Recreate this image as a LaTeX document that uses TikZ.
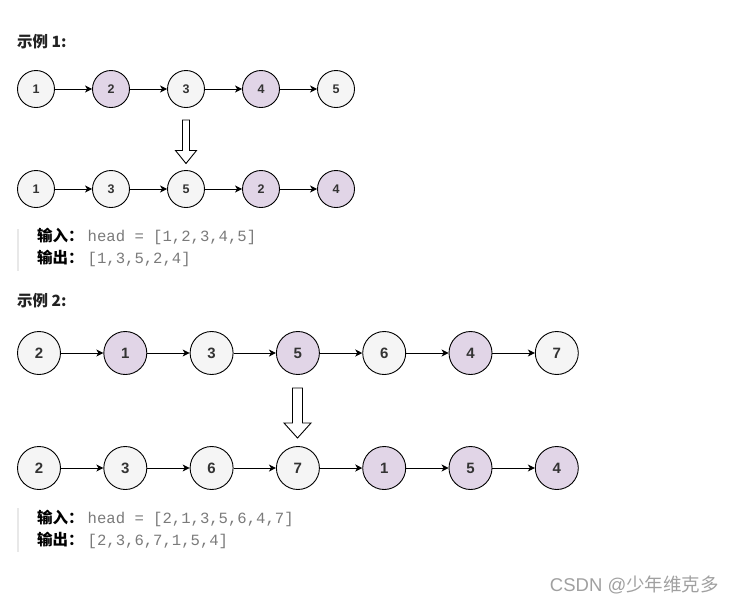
\documentclass[tikz,border=0pt]{standalone}
\usepackage{fontspec,xcolor}
\usetikzlibrary{arrows.meta}
\setmainfont{Liberation Sans}
\newfontfamily\cjk{Noto Sans CJK SC}
\newfontfamily\codefont{Liberation Mono}
\newcommand\codetxt[1]{{\codefont\fontsize{15.6}{17}\selectfont\color{cCode}#1}}
\definecolor{night}{HTML}{222222}
\definecolor{ink}{HTML}{333333}
\definecolor{cPla}{HTML}{F5F5F5}
\definecolor{cPur}{HTML}{E1D5E7}
\definecolor{cCode}{HTML}{7A7A7A}
\definecolor{cBar}{HTML}{E8E8E8}
\definecolor{cMark}{HTML}{A0A0A0}

\begin{document}
\begin{tikzpicture}[x=1pt,y=-1pt,
  nd/.style={circle,draw=black,line width=0.9pt,inner sep=0pt,text=ink,font=\bfseries},
  lnk/.style={-{Stealth[length=7pt,width=7pt,inset=2pt]},line width=0.9pt},
  hollow/.style={draw=black,line width=0.9pt,fill=white,line join=miter},
  head/.style={anchor=west,inner sep=0pt,font=\cjk\bfseries\fontsize{15.5}{17}\selectfont,text=night},
  io/.style={anchor=west,inner sep=0pt,font=\fontsize{15.5}{17}\selectfont}]
  \useasboundingbox (0,0) rectangle (734,606);

  % example 1
  \node[head] (t1) at (17,42) {示例 1:};
  \foreach \n/\c [count=\i] in {1/cPla,2/cPur,3/cPla,4/cPur,5/cPla}
    \node[nd,fill=\c,minimum size=37,font=\bfseries\fontsize{12.5}{14}\selectfont] (p\i) at ({36+75*(\i-1)},89) {\n};
  \foreach \n/\c [count=\i] in {1/cPla,3/cPla,5/cPla,2/cPur,4/cPur}
    \node[nd,fill=\c,minimum size=37,font=\bfseries\fontsize{12.5}{14}\selectfont] (q\i) at ({36+75*(\i-1)},189) {\n};
  \foreach \i/\j in {1/2,2/3,3/4,4/5}{
    \draw[lnk] (p\i) -- (p\j);
    \draw[lnk] (q\i) -- (q\j);
  }
  \draw[hollow] (182.5,120) -- (189.5,120) -- (189.5,150.5) -- (196.5,150.5)
    -- (186,163.5) -- (175.5,150.5) -- (182.5,150.5) -- cycle;
  \fill[cBar] (16.5,229) rectangle (19,271);
  \node[io] (in1) at (37,236) {{\cjk\bfseries 输入：}\hspace{4pt}\codetxt{head = [1,2,3,4,5]}};
  \node[io] (out1) at (37,258) {{\cjk\bfseries 输出：}\hspace{4pt}\codetxt{[1,3,5,2,4]}};

  % example 2
  \node[head] (t2) at (17,301) {示例 2:};
  \foreach \n/\c [count=\i] in {2/cPla,1/cPur,3/cPla,5/cPur,6/cPla,4/cPur,7/cPla}
    \node[nd,fill=\c,minimum size=43,font=\bfseries\fontsize{15}{17}\selectfont] (r\i) at ({39+86.3*(\i-1)},353) {\n};
  \foreach \n/\c [count=\i] in {2/cPla,3/cPla,6/cPla,7/cPla,1/cPur,5/cPur,4/cPur}
    \node[nd,fill=\c,minimum size=43,font=\bfseries\fontsize{15}{17}\selectfont] (s\i) at ({39+86.3*(\i-1)},468) {\n};
  \foreach \i/\j in {1/2,2/3,3/4,4/5,5/6,6/7}{
    \draw[lnk] (r\i) -- (r\j);
    \draw[lnk] (s\i) -- (s\j);
  }
  \draw[hollow] (292.5,388) -- (302.5,388) -- (302.5,423) -- (311,423)
    -- (297.5,438) -- (284,423) -- (292.5,423) -- cycle;
  \fill[cBar] (16.5,508) rectangle (19,552);
  \node[io] (in2) at (37,518) {{\cjk\bfseries 输入：}\hspace{4pt}\codetxt{head = [2,1,3,5,6,4,7]}};
  \node[io] (out2) at (37,540) {{\cjk\bfseries 输出：}\hspace{4pt}\codetxt{[2,3,6,7,1,5,4]}};

  \node[anchor=east,inner sep=0pt,text=cMark,font=\fontsize{18.5}{20}\selectfont] (mark) at (719,585) {CSDN @{\cjk 少年维克多}};
\end{tikzpicture}
\end{document}
